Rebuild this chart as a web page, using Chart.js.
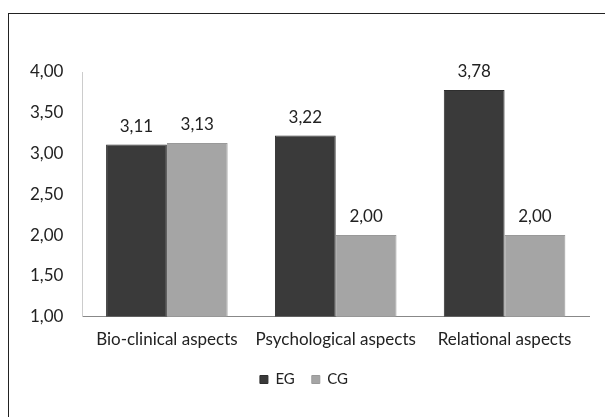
<!DOCTYPE html>
<html>
<head>
<meta charset="utf-8">
<script src="https://cdn.jsdelivr.net/npm/chart.js@4/dist/chart.umd.min.js"></script>
<style>
  body { margin: 0; background: #fff; }
  #frame { position: absolute; left: 8px; top: 13px; width: 610px; height: 420px; border: 1px solid #222; }
  #wrap { position: absolute; left: 0; top: 0; width: 605px; height: 417px; }
</style>
</head>
<body>
<div id="frame"></div>
<div id="wrap"><canvas id="myChart"></canvas></div>
<script>
const categories = ["Bio-clinical aspects", "Psychological aspects", "Relational aspects"];
const egValues = [3.11, 3.22, 3.78];
const cgValues = [3.13, 2.00, 2.00];
const yTicks = [1.00, 1.50, 2.00, 2.50, 3.00, 3.50, 4.00];

const fontFamily = "Lato, 'Open Sans', sans-serif";

function fmt(v) {
  return v.toFixed(2).replace(".", ",");
}

// draw value labels above each bar
const valueLabels = {
  id: "valueLabels",
  afterDatasetsDraw(chart) {
    const ctx = chart.ctx;
    ctx.save();
    ctx.font = "17px " + fontFamily;
    ctx.fillStyle = "#222";
    ctx.textAlign = "center";
    ctx.textBaseline = "bottom";
    chart.data.datasets.forEach((ds, i) => {
      chart.getDatasetMeta(i).data.forEach((bar, j) => {
        ctx.fillText(fmt(ds.data[j]), bar.x, bar.y - 10);
      });
    });
    ctx.restore();
  }
};

new Chart("myChart", {
  type: "bar",
  data: {
    labels: categories,
    datasets: [
      { label: "EG", data: egValues, backgroundColor: "#3a3a3a", borderColor: "#2e2e2e", borderWidth: 1 },
      { label: "CG", data: cgValues, backgroundColor: "#a5a5a5", borderColor: "#999", borderWidth: 1 }
    ]
  },
  options: {
    responsive: true,
    maintainAspectRatio: false,
    animation: false,
    layout: { padding: { top: 72, right: 16, left: 19, bottom: 20 } },
    datasets: { bar: { categoryPercentage: 0.72, barPercentage: 1.0 } },
    plugins: {
      legend: {
        position: "bottom",
        labels: {
          boxWidth: 8, boxHeight: 8, padding: 17,
          color: "#222",
          font: { family: fontFamily, size: 15 }
        }
      },
      tooltip: { enabled: false }
    },
    scales: {
      x: {
        grid: { display: false },
        border: { color: "#888" },
        ticks: { color: "#222", font: { family: fontFamily, size: 17 }, padding: 5 }
      },
      y: {
        min: 1, max: 4,
        afterBuildTicks(axis) { axis.ticks = yTicks.map(v => ({ value: v })); },
        grid: { display: false },
        border: { color: "#ccc" },
        ticks: {
          color: "#222",
          padding: 11,
          font: { family: fontFamily, size: 17 },
          callback: v => fmt(v)
        }
      }
    }
  },
  plugins: [valueLabels]
});
</script>
</body>
</html>
